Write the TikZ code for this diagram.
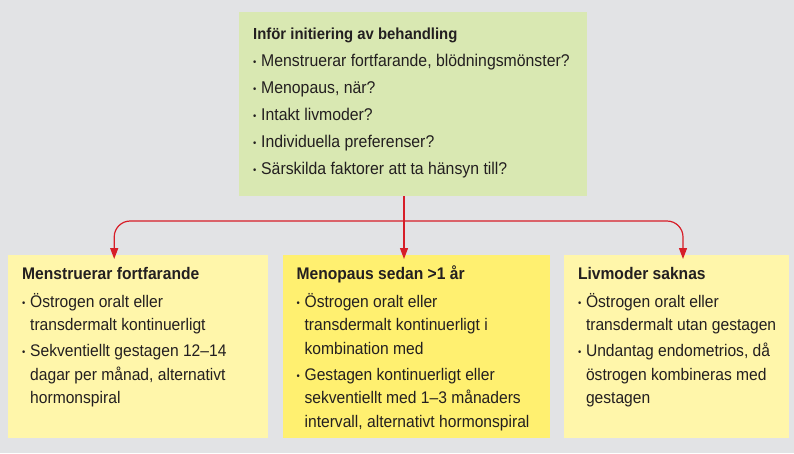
\documentclass[tikz,border=0pt]{standalone}
\usepackage{fontspec}
\setmainfont{Liberation Sans}[FakeStretch=0.93]
\usetikzlibrary{positioning, arrows.meta}

\definecolor{bggrey}{RGB}{226,227,229}
\definecolor{boxgreen}{RGB}{217,232,178}
\definecolor{paleyellow}{RGB}{255,246,170}
\definecolor{brightyellow}{RGB}{255,240,112}
\definecolor{arrowred}{RGB}{215,30,40}
\definecolor{ink}{RGB}{35,31,32}

\newlength{\itmgap}
\newcommand{\itm}[1]{\par\vspace{\itmgap}\hangindent=8pt\hangafter=1\noindent
    \makebox[8pt][l]{\raisebox{1.2pt}{\fontsize{10}{10}\selectfont\textbullet}}#1}
\newcommand{\boxtext}[3]{\parbox[t][#2][t]{#1}{\raggedright #3}}

\begin{document}
\begin{tikzpicture}[x=1pt, y=-1pt, >={Triangle[length=11pt,width=8pt]},
        box/.style={anchor=north west, inner xsep=14pt, inner ysep=0pt, text=ink},
        link/.style={->, draw=arrowred, line width=1.2pt, shorten >=-4pt}]

        \useasboundingbox[fill=bggrey] (0,0) rectangle (794,453);

        \node[box, fill=boxgreen]                        (start) at (239,12)
            {\boxtext{320pt}{184pt}{\fontsize{17}{27}\selectfont\setlength{\itmgap}{0pt}%
                {\fontsize{16}{27}\selectfont\textbf{\rule{0pt}{27pt}Inför initiering av behandling}}
                \itm{Menstruerar fortfarande, blödningsmönster?}
                \itm{Menopaus, när?}
                \itm{Intakt livmoder?}
                \itm{Individuella preferenser?}
                \itm{Särskilda faktorer att ta hänsyn till?}}};

        \node[box, fill=paleyellow]                      (mens) at (8,255)
            {\boxtext{232pt}{183pt}{\fontsize{16.8}{23.5}\selectfont\setlength{\itmgap}{2.5pt}%
                \textbf{\rule{0pt}{24pt}Menstruerar fortfarande}\par\vspace{2pt}
                \itm{Östrogen oralt eller\newline transdermalt kontinuerligt}
                \itm{Sekventiellt gestagen 12--14\newline dagar per månad, alternativt\newline hormonspiral}}};
        \node[box, fill=brightyellow, right=14pt of mens] (meno)
            {\boxtext{239pt}{183pt}{\fontsize{16.8}{23.5}\selectfont\setlength{\itmgap}{2.5pt}%
                \textbf{\rule{0pt}{24pt}Menopaus sedan >1 år}\par\vspace{2pt}
                \itm{Östrogen oralt eller\newline transdermalt kontinuerligt i\newline kombination med}
                \itm{Gestagen kontinuerligt eller\newline sekventiellt med 1--3 månaders\newline intervall, alternativt hormonspiral}}};
        \node[box, fill=paleyellow, right=14pt of meno]  (livm)
            {\boxtext{197pt}{183pt}{\fontsize{16.8}{23.5}\selectfont\setlength{\itmgap}{2.5pt}%
                \textbf{\rule{0pt}{24pt}Livmoder saknas}\par\vspace{2pt}
                \itm{Östrogen oralt eller\newline \mbox{transdermalt utan gestagen}}
                \itm{Undantag endometrios, då\newline östrogen kombineras med\newline gestagen}}};

        % red connectors
        \coordinate (fork) at (404,221);
        \draw[link] (start.south -| fork) -- (meno.north -| fork);
        \draw[link, rounded corners=16pt] (fork) -| ([xshift=-24pt]mens.north);
        \draw[link, rounded corners=16pt] (fork) -| ([xshift=6.5pt]livm.north);

    \end{tikzpicture}
\end{document}
